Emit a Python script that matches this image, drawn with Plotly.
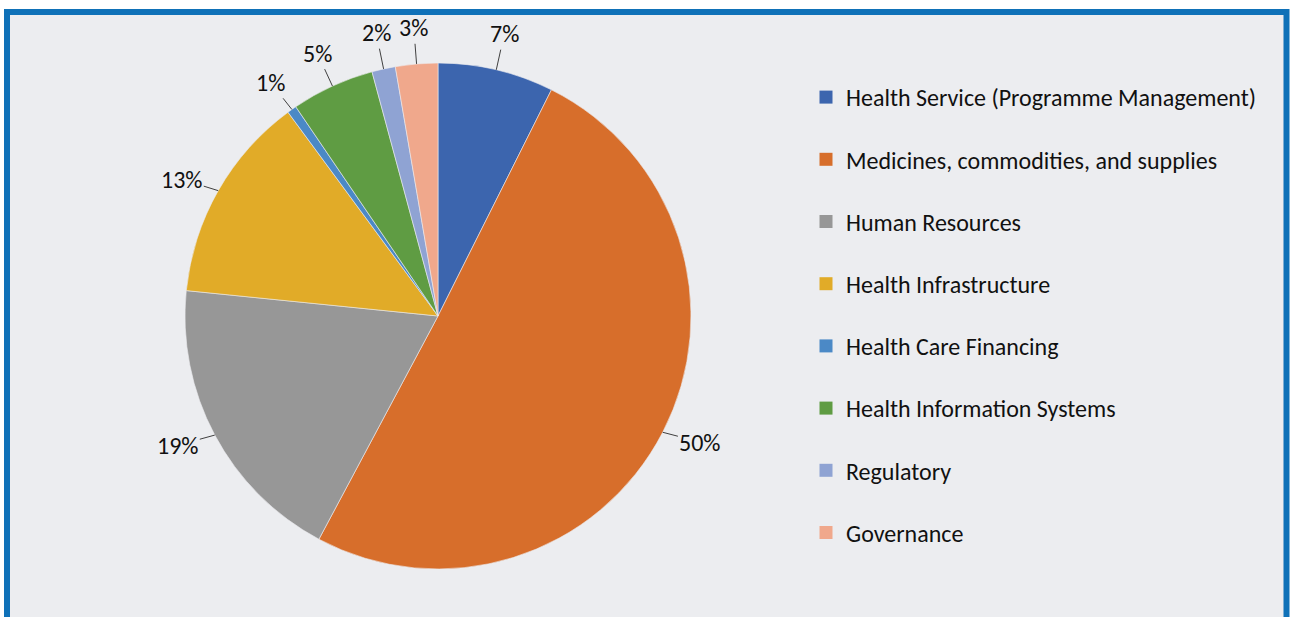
import math
import plotly.graph_objects as go

categories = [
    "Health Service (Programme Management)",
    "Medicines, commodities, and supplies",
    "Human Resources",
    "Health Infrastructure",
    "Health Care Financing",
    "Health Information Systems",
    "Regulatory",
    "Governance",
]
shares = [7.4, 50.4, 18.8, 13.3, 0.6, 5.3, 1.5, 2.7]
colors = ["#3C65AE", "#D76E2B", "#979797", "#E1AB28", "#4B89C6", "#5F9C43", "#8FA3D3", "#F0A88C"]

W, H = 1290, 617
FONT = "Calibri, Carlito, Lato, sans-serif"

# pie placement (pixels)
cx, cy, r = 438, 316, 253
dom_x = [(cx - r) / W, (cx + r) / W]
dom_y = [1 - (cy + r) / H, 1 - (cy - r) / H]

fig = go.Figure()

fig.add_trace(go.Pie(
    labels=categories,
    values=shares,
    sort=False,
    direction="clockwise",
    rotation=0,
    marker=dict(colors=colors, line=dict(color="#ECEDF0", width=0.6)),
    textinfo="none",
    hoverinfo="label+percent",
    showlegend=False,
    domain=dict(x=dom_x, y=dom_y),
))

# legend entries (one group each so that spacing can be controlled)
for name, col in zip(categories, colors):
    fig.add_trace(go.Scatter(
        x=[None], y=[None], mode="markers", name=name,
        legendgroup=name,
        marker=dict(symbol="square", size=13, color=col),
    ))

# percentage labels with leader lines, placed from the slice mid-angles
total = sum(shares)
annotations = []
cum = 0.0
for v in shares:
    mid = (cum + v / 2) / total * 2 * math.pi
    cum += v
    dx, dy = math.sin(mid), -math.cos(mid)
    ex, ey = cx + r * dx, cy + r * dy
    txt = f"{round(v / total * 100):.0f}%"
    tw = len(txt) * 13.5
    D = 17 + abs(dx) * tw / 2 + abs(dy) * 15
    annotations.append(dict(
        x=ex / W, y=1 - ey / H, xref="paper", yref="paper",
        text=txt, showarrow=True, arrowhead=0, arrowwidth=1, arrowcolor="#404040",
        ax=dx * D, ay=dy * abs(dy) * D * 1.1, standoff=0, startstandoff=0,
        font=dict(family=FONT, size=24, color="#111111"),
    ))

fig.update_layout(
    width=W, height=H,
    margin=dict(l=0, r=0, t=0, b=0),
    paper_bgcolor="white",
    plot_bgcolor="rgba(0,0,0,0)",
    xaxis=dict(visible=False, domain=[0.99, 1]),
    yaxis=dict(visible=False, domain=[0.99, 1]),
    shapes=[dict(
        type="rect", xref="paper", yref="paper",
        x0=7 / W, x1=1286.5 / W, y0=-0.05, y1=1 - 12 / H,
        fillcolor="#ECEDF0", line=dict(color="#0F71B8", width=6), layer="below",
    )],
    annotations=annotations,
    legend=dict(
        x=806 / W, y=1 - 75 / H, xanchor="left", yanchor="top",
        bgcolor="rgba(0,0,0,0)",
        font=dict(family=FONT, size=24, color="#111111"),
        tracegroupgap=28,
        traceorder="grouped",
        itemclick=False,
    ),
)

fig.write_html("out.html")
